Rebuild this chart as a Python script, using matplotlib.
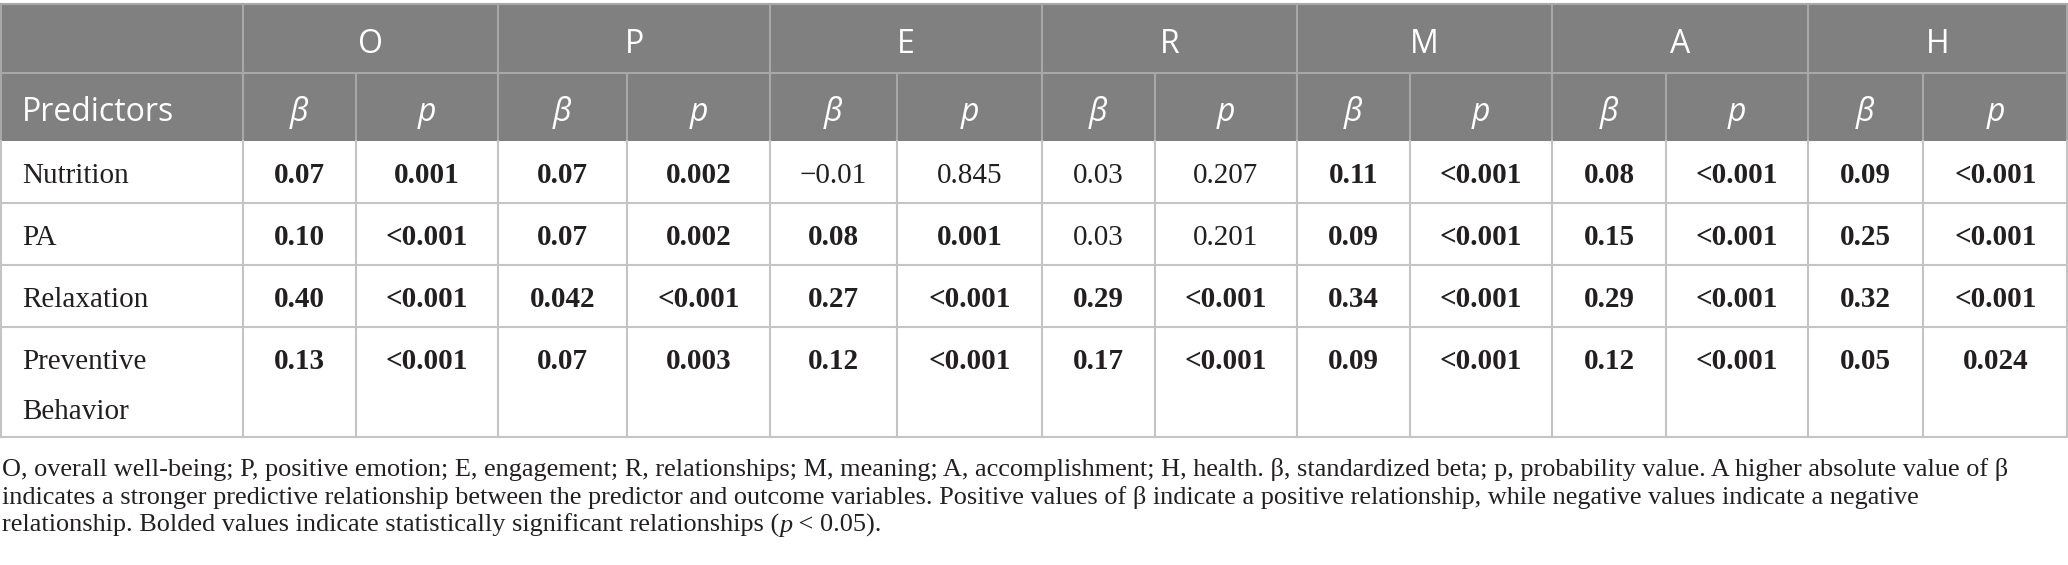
import matplotlib
matplotlib.use("Agg")
import matplotlib.pyplot as plt

# ---------------- data ----------------
outcomes = ["O", "P", "E", "R", "M", "A", "H"]
predictors = ["Nutrition", "PA", "Relaxation", "Preventive Behavior"]
predictor_lines = [["Nutrition"], ["PA"], ["Relaxation"], ["Preventive", "Behavior"]]

beta_nutrition = ["0.07", "0.07", "\u22120.01", "0.03", "0.11", "0.08", "0.09"]
p_nutrition = ["0.001", "0.002", "0.845", "0.207", "<0.001", "<0.001", "<0.001"]
beta_pa = ["0.10", "0.07", "0.08", "0.03", "0.09", "0.15", "0.25"]
p_pa = ["<0.001", "0.002", "0.001", "0.201", "<0.001", "<0.001", "<0.001"]
beta_relax = ["0.40", "0.042", "0.27", "0.29", "0.34", "0.29", "0.32"]
p_relax = ["<0.001", "<0.001", "<0.001", "<0.001", "<0.001", "<0.001", "<0.001"]
beta_prev = ["0.13", "0.07", "0.12", "0.17", "0.09", "0.12", "0.05"]
p_prev = ["<0.001", "0.003", "<0.001", "<0.001", "<0.001", "<0.001", "0.024"]

betas = [beta_nutrition, beta_pa, beta_relax, beta_prev]
pvals = [p_nutrition, p_pa, p_relax, p_prev]

sub_headers = ["\u03b2", "p"]
header_first = "Predictors"

footnote_1 = ("O, overall well-being; P, positive emotion; E, engagement; R, relationships; "
              "M, meaning; A, accomplishment; H, health. \u03b2, standardized beta; p, probability "
              "value. A higher absolute value of \u03b2")
footnote_2 = ("indicates a stronger predictive relationship between the predictor and outcome "
              "variables. Positive values of \u03b2 indicate a positive relationship, while negative "
              "values indicate a negative")
footnote_3a = "relationship. Bolded values indicate statistically significant relationships ("
footnote_3b = "p"
footnote_3c = " < 0.05)."


def pnum(s):
    return float(s.replace("<", ""))


# ---------------- layout ----------------
W, H = 2068, 565
fig = plt.figure(figsize=(W / 100, H / 100), dpi=100)
ax = fig.add_axes([0, 0, 1, 1])
ax.set_xlim(0, W)
ax.set_ylim(H, 0)
ax.axis("off")

col_edges = [0, 243, 356, 498, 627, 770, 897, 1042, 1155, 1297, 1410, 1552, 1666, 1808, 1923, 2068]
group_edges = [243, 498, 770, 1042, 1297, 1552, 1808, 2068]
y_top, y_mid, y_head = 4, 73, 141
row_edges = [141, 203, 265, 327, 437]
line_gap = 50

HEAD_BG = "#7f807f"
HEAD_LINE = "#a8a8a8"
BODY_LINE = "#c4c4c4"
TXT = "#231f20"
LW = 1.5

from matplotlib.patches import Rectangle
ax.add_patch(Rectangle((0, y_top), W, y_head - y_top, facecolor=HEAD_BG, edgecolor="none", zorder=1))

# header lines
ax.plot([0, W], [y_top, y_top], color=HEAD_LINE, lw=LW, zorder=2)
ax.plot([0, W], [y_mid, y_mid], color=HEAD_LINE, lw=LW, zorder=2)
for x in group_edges[:-1]:
    ax.plot([x, x], [y_top, y_head], color=HEAD_LINE, lw=LW, zorder=2)
for x in col_edges[1:-1]:
    ax.plot([x, x], [y_mid, y_head], color=HEAD_LINE, lw=LW, zorder=2)
ax.plot([0.7, 0.7], [y_top, y_head], color=HEAD_LINE, lw=LW, zorder=2)
ax.plot([W - 0.7, W - 0.7], [y_top, y_head], color=HEAD_LINE, lw=LW, zorder=2)

# body lines
for y in row_edges[1:]:
    ax.plot([0, W], [y, y], color=BODY_LINE, lw=LW, zorder=2)
for x in col_edges[1:-1]:
    ax.plot([x, x], [row_edges[0], row_edges[-1]], color=BODY_LINE, lw=LW, zorder=2)
ax.plot([0.7, 0.7], [row_edges[0], row_edges[-1]], color=BODY_LINE, lw=LW, zorder=2)
ax.plot([W - 0.7, W - 0.7], [row_edges[0], row_edges[-1]], color=BODY_LINE, lw=LW, zorder=2)

# header text
HFONT = "Open Sans"
HSIZE = 23
for i, g in enumerate(outcomes):
    cx = (group_edges[i] + group_edges[i + 1]) / 2
    ax.text(cx, 53, g, family=HFONT, fontsize=HSIZE, color="white", ha="center", va="baseline", zorder=3)
ax.text(22, 121, header_first, family=HFONT, fontsize=HSIZE, color="white", ha="left", va="baseline", zorder=3)
for j in range(len(col_edges) - 2):
    cx = (col_edges[j + 1] + col_edges[j + 2]) / 2
    ax.text(cx, 121, sub_headers[j % 2], family=HFONT, fontsize=HSIZE, fontstyle="italic",
            color="white", ha="center", va="baseline", zorder=3)

# body text
BFONT = "Liberation Serif"
BSIZE = 21
for r in range(len(predictors)):
    base = row_edges[r] + 42
    for k, line in enumerate(predictor_lines[r]):
        ax.text(22, base + k * line_gap, line, family=BFONT, fontsize=BSIZE, color=TXT,
                ha="left", va="baseline", zorder=3)
    for c in range(len(outcomes)):
        sig = pnum(pvals[r][c]) < 0.05
        w = "bold" if sig else "normal"
        for j, val in enumerate([betas[r][c], pvals[r][c]]):
            k = 1 + 2 * c + j
            cx = (col_edges[k] + col_edges[k + 1]) / 2
            ax.text(cx, base, val, family=BFONT, fontsize=BSIZE, fontweight=w, color=TXT,
                    ha="center", va="baseline", zorder=3)

# footnote, fit line 1 to measured width
fig.canvas.draw()
renderer = fig.canvas.get_renderer()
fsize = 16
t = ax.text(2, 476, footnote_1, family=BFONT, fontsize=fsize, color=TXT, ha="left", va="baseline")
wpx = t.get_window_extent(renderer).width
fsize = fsize * 2006 / wpx
t.set_fontsize(fsize)
ax.text(2, 504, footnote_2, family=BFONT, fontsize=fsize, color=TXT, ha="left", va="baseline")
xpos = 2
for s, st in [(footnote_3a, "normal"), (footnote_3b, "italic"), (footnote_3c, "normal")]:
    tt = ax.text(xpos, 532, s, family=BFONT, fontsize=fsize, fontstyle=st, color=TXT,
                 ha="left", va="baseline")
    fig.canvas.draw()
    bb = tt.get_window_extent(renderer)
    xpos = bb.x1

fig.savefig("out.png", dpi=100)
